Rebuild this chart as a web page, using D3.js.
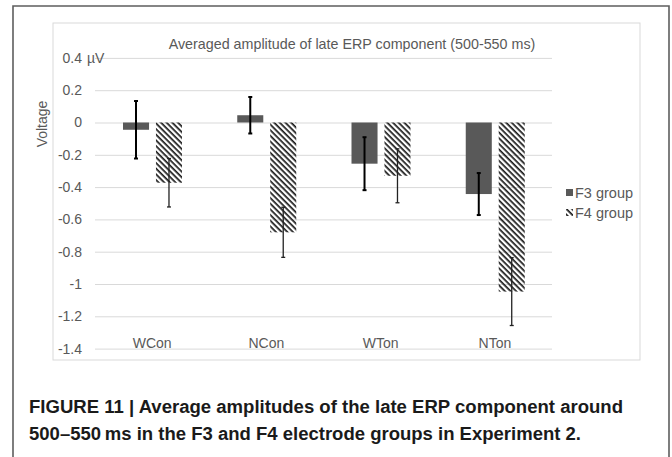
<!DOCTYPE html>
<html>
<head lang="en">
	<meta charset="UTF-8">
	<title>Late ERP amplitudes</title>
	<style>
	body { margin: 0; background: #fff; }
	text { font-family: "Liberation Sans", Arial, sans-serif; }
	.tick text { fill: #595959; font-size: 14px; }
	.caption { font-weight: bold; font-size: 17.5px; fill: #1a1a1a; }
	</style>
	<script src="https://cdn.jsdelivr.net/npm/d3@7"></script>
</head>
<body>
<script>
	var categories = ["WCon", "NCon", "WTon", "NTon"];
	var seriesNames = ["F3 group", "F4 group"];
	var f3Values = [-0.045, 0.045, -0.255, -0.443];
	var f3Errors = [0.178, 0.113, 0.164, 0.13];
	var f4Values = [-0.373, -0.68, -0.33, -1.047];
	var f4Errors = [0.15, 0.155, 0.167, 0.21];
	var yTicks = [0.4, 0.2, 0, -0.2, -0.4, -0.6, -0.8, -1, -1.2, -1.4];

	window.onload = function(){
		var width = 672;
		var height = 457;

		var svg = d3.select("body").append("svg")
			.attr("width", width)
			.attr("height", height);

		// hatch for the F4 bars (lines running top-left to bottom-right)
		var defs = svg.append("defs");
		defs.append("pattern")
			.attr("id", "hatch")
			.attr("patternUnits", "userSpaceOnUse")
			.attr("width", 4).attr("height", 4)
			.attr("patternTransform", "rotate(45)")
			.append("rect")
				.attr("width", 4).attr("height", 1.7)
				.attr("fill", "#1a1a1a");

		// outer frame, open at the bottom
		svg.append("path")
			.attr("d", "M13,457V6H669V457")
			.attr("fill", "none")
			.attr("stroke", "#5e5e5e")
			.attr("stroke-width", 1.6);

		// chart area
		svg.append("rect")
			.attr("x", 53).attr("y", 23)
			.attr("width", 587).attr("height", 337)
			.attr("fill", "#fff")
			.attr("stroke", "#d9d9d9");

		var y = d3.scaleLinear().domain([-1.4, 0.4]).range([348.6, 57.9]);
		var x = d3.scaleBand().domain(categories).range([95, 552]);
		var xs = d3.scaleBand().domain(seriesNames).range([28, 87]).paddingInner(0.21);

		// gridlines + y labels
		var yAxis = d3.axisLeft(y)
			.tickValues(yTicks)
			.tickSize(-(552 - 95))
			.tickPadding(13)
			.tickFormat(function(d){ return String(+d.toFixed(1)); });
		var gy = svg.append("g")
			.attr("transform", "translate(95,0)")
			.call(yAxis);
		gy.select(".domain").remove();
		gy.selectAll(".tick line").attr("stroke", "#d9d9d9");
		gy.selectAll(".tick text").attr("x", -13);

		svg.append("text")
			.attr("x", 87).attr("y", y(0.4) + 5)
			.attr("fill", "#595959")
			.attr("font-size", 14)
			.text("µV");

		// category labels
		svg.append("g").selectAll("text")
			.data(categories)
			.enter().append("text")
			.attr("x", function(d){ return x(d) + x.bandwidth() / 2; })
			.attr("y", 348)
			.attr("text-anchor", "middle")
			.attr("fill", "#595959")
			.attr("font-size", 14)
			.text(function(d){ return d; });

		var rows = [];
		categories.forEach(function(c, i){
			rows.push({cat: c, s: seriesNames[0], v: f3Values[i], e: f3Errors[i]});
			rows.push({cat: c, s: seriesNames[1], v: f4Values[i], e: f4Errors[i]});
		});

		svg.append("g").selectAll("rect")
			.data(rows)
			.enter().append("rect")
			.attr("x", function(d){ return x(d.cat) + xs(d.s); })
			.attr("width", xs.bandwidth())
			.attr("y", function(d){ return y(Math.max(0, d.v)); })
			.attr("height", function(d){ return Math.abs(y(d.v) - y(0)); })
			.attr("fill", function(d){ return d.s === seriesNames[0] ? "#595959" : "url(#hatch)"; });

		// error bars
		var eb = svg.append("g").selectAll("g")
			.data(rows)
			.enter().append("g")
			.attr("stroke", function(d){ return d.s === seriesNames[0] ? "#000" : "#222"; })
			.attr("stroke-width", function(d){ return d.s === seriesNames[0] ? 2 : 1.3; });
		eb.append("line")
			.attr("x1", function(d){ return x(d.cat) + xs(d.s) + xs.bandwidth() / 2; })
			.attr("x2", function(d){ return x(d.cat) + xs(d.s) + xs.bandwidth() / 2; })
			.attr("y1", function(d){ return y(d.v + d.e); })
			.attr("y2", function(d){ return y(d.v - d.e); });
		[1, -1].forEach(function(sign){
			eb.append("line")
				.attr("x1", function(d){ return x(d.cat) + xs(d.s) + xs.bandwidth() / 2 - 2; })
				.attr("x2", function(d){ return x(d.cat) + xs(d.s) + xs.bandwidth() / 2 + 2; })
				.attr("y1", function(d){ return y(d.v + sign * d.e); })
				.attr("y2", function(d){ return y(d.v + sign * d.e); });
		});

		// title
		svg.append("text")
			.attr("x", 352).attr("y", 49)
			.attr("text-anchor", "middle")
			.attr("fill", "#595959")
			.attr("font-size", 14.3)
			.text("Averaged amplitude of late ERP component (500-550 ms)");

		// y axis title
		svg.append("text")
			.attr("transform", "translate(47,124)rotate(-90)")
			.attr("text-anchor", "middle")
			.attr("fill", "#595959")
			.attr("font-size", 14)
			.text("Voltage");

		// legend
		var leg = svg.append("g").selectAll("g")
			.data(seriesNames)
			.enter().append("g")
			.attr("transform", function(d, i){ return "translate(566," + (193 + i * 20) + ")"; });
		leg.append("rect")
			.attr("x", 0).attr("y", -4)
			.attr("width", 7).attr("height", 7)
			.attr("fill", function(d, i){ return i ? "url(#hatch)" : "#595959"; });
		leg.append("text")
			.attr("x", 9).attr("y", 5)
			.attr("fill", "#595959")
			.attr("font-size", 14.5)
			.text(function(d){ return d; });

		// caption
		var cap = svg.append("g").attr("class", "caption");
		cap.append("text").attr("x", 29).attr("y", 413)
			.attr("textLength", 594).attr("lengthAdjust", "spacingAndGlyphs")
			.text("FIGURE 11 | Average amplitudes of the late ERP component around");
		cap.append("text").attr("x", 29).attr("y", 440)
			.attr("textLength", 552).attr("lengthAdjust", "spacingAndGlyphs")
			.text("500–550\u2009ms in the F3 and F4 electrode groups in Experiment 2.");
	};
</script>
</body>
</html>
